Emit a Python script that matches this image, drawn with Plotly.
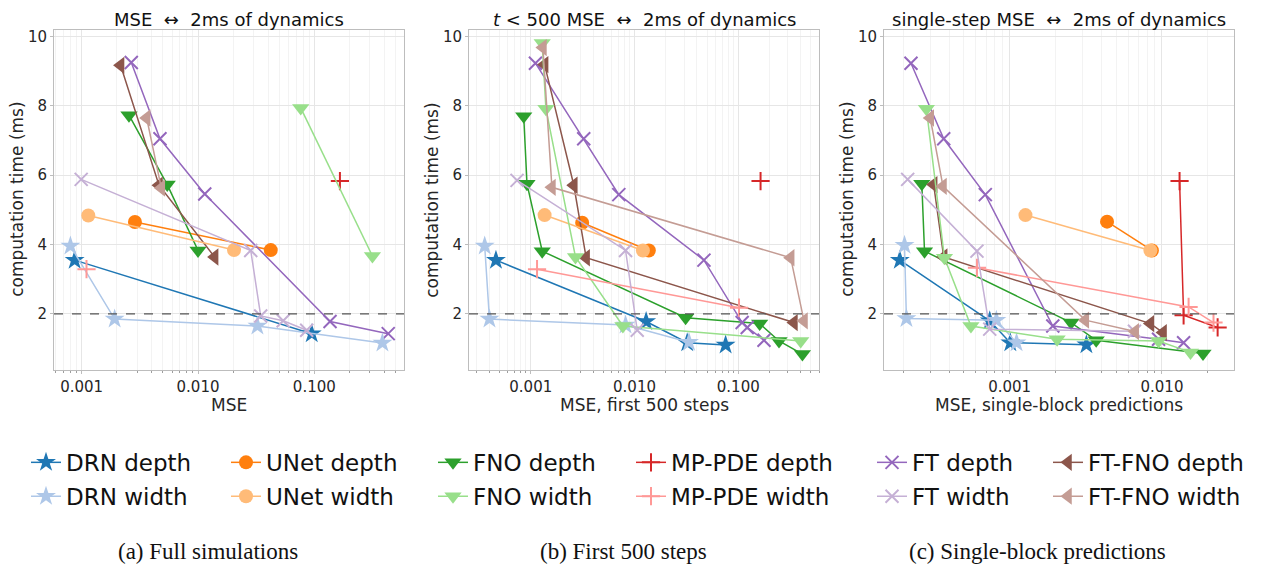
import plotly.graph_objects as go

# The page body has an 8px margin, so the figure is sized to fit the window
OFF = 8
W, H = 1276 - OFF, 570 - OFF

# ---------------- data ----------------
models = ["DRN depth", "UNet depth", "FNO depth", "MP-PDE depth", "FT depth", "FT-FNO depth",
          "DRN width", "UNet width", "FNO width", "MP-PDE width", "FT width", "FT-FNO width"]

# Panel (a): full simulations  (MSE, time ms)
full_mse = {
    "DRN depth": [0.00087, 0.095],
    "DRN width": [0.0008, 0.00192, 0.0324, 0.385],
    "UNet depth": [0.00287, 0.0422],
    "UNet width": [0.00114, 0.0204],
    "FNO depth": [0.00255, 0.00544, 0.0100],
    "FNO width": [0.0764, 0.316],
    "MP-PDE depth": [0.166],
    "MP-PDE width": [0.0011],
    "FT depth": [0.00267, 0.00471, 0.01143, 0.1365, 0.432],
    "FT width": [0.00099, 0.0284, 0.0346, 0.054, 0.086],
    "FT-FNO depth": [0.00216, 0.00462, 0.0139],
    "FT-FNO width": [0.00362, 0.00484],
}
full_time = {
    "DRN depth": [3.55, 1.43],
    "DRN width": [3.96, 1.85, 1.65, 1.16],
    "UNet depth": [4.65, 3.84],
    "UNet width": [4.84, 3.84],
    "FNO depth": [7.73, 5.73, 3.83],
    "FNO width": [7.94, 3.67],
    "MP-PDE depth": [5.83],
    "MP-PDE width": [3.29],
    "FT depth": [9.25, 7.05, 5.46, 1.78, 1.43],
    "FT width": [5.88, 3.83, 1.94, 1.80, 1.53],
    "FT-FNO depth": [9.17, 5.71, 3.64],
    "FT-FNO width": [7.65, 5.63],
}

# Panel (b): first 500 steps
first_mse = {
    "DRN depth": [0.000462, 0.01294, 0.0322, 0.0755],
    "DRN width": [0.00036, 0.0004, 0.0082, 0.0335],
    "UNet depth": [0.00313, 0.01374],
    "UNet width": [0.00136, 0.01205],
    "FNO depth": [0.000856, 0.00092, 0.00129, 0.0311, 0.1607, 0.247, 0.415],
    "FNO width": [0.00129, 0.0014, 0.0027, 0.00773, 0.40],
    "MP-PDE depth": [0.164],
    "MP-PDE width": [0.00115, 0.1016],
    "FT depth": [0.00111, 0.00324, 0.00706, 0.0467, 0.109, 0.122, 0.177],
    "FT width": [0.000738, 0.0082, 0.01062],
    "FT-FNO depth": [0.00136, 0.0026, 0.00342, 0.344],
    "FT-FNO width": [0.00131, 0.0016, 0.32, 0.43],
}
first_time = {
    "DRN depth": [3.55, 1.78, 1.17, 1.10],
    "DRN width": [3.96, 1.85, 1.68, 1.18],
    "UNet depth": [4.63, 3.83],
    "UNet width": [4.85, 3.83],
    "FNO depth": [7.70, 5.75, 3.81, 1.89, 1.72, 1.22, 0.84],
    "FNO width": [9.81, 7.92, 3.64, 1.65, 1.22],
    "MP-PDE depth": [5.83],
    "MP-PDE width": [3.29, 2.18],
    "FT depth": [9.23, 7.05, 5.44, 3.55, 1.75, 1.61, 1.24],
    "FT width": [5.85, 3.83, 1.53],
    "FT-FNO depth": [9.19, 5.71, 3.62, 1.75],
    "FT-FNO width": [9.68, 5.65, 3.62, 1.80],
}

# Panel (c): single-block predictions
single_mse = {
    "DRN depth": [0.00019, 0.00074, 0.00101, 0.00319],
    "DRN width": [0.000204, 0.00021, 0.000818, 0.00111],
    "UNet depth": [0.00436, 0.00859],
    "UNet width": [0.00127, 0.0084],
    "FNO depth": [0.000265, 0.000276, 0.00253, 0.0037, 0.0186],
    "FNO width": [0.000284, 0.000373, 0.000557, 0.00205, 0.0095, 0.0154],
    "MP-PDE depth": [0.01305, 0.01387, 0.0232],
    "MP-PDE width": [0.00061, 0.01496, 0.0218],
    "FT depth": [0.000225, 0.000369, 0.000692, 0.00192, 0.0095, 0.01387],
    "FT width": [0.000214, 0.00061, 0.00074, 0.0066],
    "FT-FNO depth": [0.000317, 0.000369, 0.0084, 0.01017],
    "FT-FNO width": [0.000301, 0.000365, 0.00314, 0.00668],
}
single_time = {
    "DRN depth": [3.55, 1.80, 1.17, 1.11],
    "DRN width": [3.98, 1.87, 1.82, 1.17],
    "UNet depth": [4.66, 3.83],
    "UNet width": [4.85, 3.83],
    "FNO depth": [5.75, 3.81, 1.75, 1.24, 0.86],
    "FNO width": [7.92, 3.62, 1.65, 1.27, 1.22, 0.89],
    "MP-PDE depth": [5.83, 1.96, 1.61],
    "MP-PDE width": [3.33, 2.20, 1.75],
    "FT depth": [9.23, 7.05, 5.44, 1.65, 1.27, 1.17],
    "FT width": [5.88, 3.81, 1.56, 1.50],
    "FT-FNO depth": [5.73, 3.64, 1.72, 1.46],
    "FT-FNO width": [7.65, 5.68, 1.82, 1.49],
}

panel_titles = ["MSE \u00a0\u2194\u00a0 2ms of dynamics",
                "<i>t</i> < 500 MSE \u00a0\u2194\u00a0 2ms of dynamics",
                "single-step MSE \u00a0\u2194\u00a0 2ms of dynamics"]
x_titles = ["MSE", "MSE, first 500 steps", "MSE, single-block predictions"]
y_title = "computation time (ms)"
captions = ["(a) Full simulations", "(b) First 500 steps", "(c) Single-block predictions"]
threshold_ms = 2

# ---------------- styles ----------------
colors = {
    "DRN depth": "#1f77b4", "DRN width": "#aec7e8",
    "UNet depth": "#ff7f0e", "UNet width": "#ffbb78",
    "FNO depth": "#2ca02c", "FNO width": "#98df8a",
    "MP-PDE depth": "#d62728", "MP-PDE width": "#ff9896",
    "FT depth": "#9467bd", "FT width": "#c5b0d5",
    "FT-FNO depth": "#8c564b", "FT-FNO width": "#c49c94",
}
symbols = {"DRN": ("star", 15), "UNet": ("circle", 14), "FNO": ("triangle-down", 15),
           "MP-PDE": ("cross-thin", 13), "FT": ("x-thin", 13), "FT-FNO": ("triangle-left", 15)}

# pixel layout (window pixels)
panels_px = [(54, 404), (469, 819), (884, 1234)]
top_px, bot_px = 28, 369
x_ranges = [[-3.238, -0.229], [-3.595, -0.222], [-3.825, -1.527]]
y_range = [0.39, 10.19]


def px(x):
    return (x - OFF) / W


def py(y):
    return 1 - (y - OFF) / H


fig = go.Figure()
datasets = [(full_mse, full_time), (first_mse, first_time), (single_mse, single_time)]

legend_text_x = [70, 270, 477, 675, 916, 1092]
legend_rows_y = [462, 496]

for pi, (mse, tm) in enumerate(datasets):
    xa = "x" if pi == 0 else f"x{pi+1}"
    ya = "y" if pi == 0 else f"y{pi+1}"
    for mi, m in enumerate(models):
        fam = m.rsplit(" ", 1)[0]
        sym, sz = symbols[fam]
        thin = sym.endswith("thin")
        leg_id = "legend" if mi == 0 else f"legend{mi+1}"
        fig.add_trace(go.Scatter(
            x=mse[m], y=tm[m], mode="lines+markers", name=m,
            xaxis=xa, yaxis=ya,
            line=dict(color=colors[m], width=1.5),
            marker=dict(symbol=sym, size=sz, color=colors[m],
                        line=dict(color=colors[m], width=2 if thin else 0)),
            showlegend=(pi == 0), legend=leg_id,
        ))

axis_common = dict(showline=True, mirror=True, linecolor="#bdbdbd", linewidth=1,
                   ticks="outside", tickcolor="#bdbdbd", ticklen=3,
                   tickfont=dict(family="DejaVu Sans", size=15, color="#262626"),
                   gridcolor="#e6e6e6", gridwidth=1, zeroline=False)

layout = dict(width=W, height=H, margin=dict(l=0, r=0, t=0, b=0),
              paper_bgcolor="white", plot_bgcolor="white",
              font=dict(family="DejaVu Sans", color="#262626"))

for pi in range(3):
    xk = "xaxis" if pi == 0 else f"xaxis{pi+1}"
    yk = "yaxis" if pi == 0 else f"yaxis{pi+1}"
    l, r = panels_px[pi]
    layout[xk] = dict(axis_common, type="log", domain=[px(l), px(r)], range=x_ranges[pi],
                      anchor="y" if pi == 0 else f"y{pi+1}",
                      dtick=1, tickformat=".3f",
                      minor=dict(dtick="D1", showgrid=True, gridcolor="#f3f3f3",
                                 ticks="outside", ticklen=2, tickcolor="#9e9e9e"))
    layout[yk] = dict(axis_common, domain=[py(bot_px), py(top_px)], range=y_range,
                      anchor="x" if pi == 0 else f"x{pi+1}", dtick=2, tick0=0)

# legends: one per entry, placed in a 6x2 grid
for mi, m in enumerate(models):
    col, row = mi % 6, mi // 6
    key = "legend" if mi == 0 else f"legend{mi+1}"
    layout[key] = dict(x=px(legend_text_x[col] - 44), y=py(legend_rows_y[row]),
                       xanchor="left", yanchor="middle", bgcolor="rgba(0,0,0,0)",
                       font=dict(family="DejaVu Sans", size=23, color="#111"),
                       itemwidth=30, tracegroupgap=0)

fig.update_layout(**layout)

# threshold lines
for pi in range(3):
    xr = "x domain" if pi == 0 else f"x{pi+1} domain"
    yr = "y" if pi == 0 else f"y{pi+1}"
    fig.add_shape(type="line", xref=xr, yref=yr, x0=0, x1=1, y0=threshold_ms, y1=threshold_ms,
                  line=dict(color="#555555", width=1.3, dash="dash"))

# titles, axis titles, captions
for pi in range(3):
    l, r = panels_px[pi]
    cx = (l + r) / 2
    fig.add_annotation(x=px(cx), y=py(18), xref="paper", yref="paper", text=panel_titles[pi],
                       showarrow=False, xanchor="center", yanchor="middle",
                       font=dict(family="DejaVu Sans", size=18, color="#111"))
    fig.add_annotation(x=px(cx), y=py(404), xref="paper", yref="paper", text=x_titles[pi],
                       showarrow=False, xanchor="center", yanchor="middle",
                       font=dict(family="DejaVu Sans", size=17, color="#262626"))
    fig.add_annotation(x=px(l - 37), y=py((top_px + bot_px) / 2), xref="paper", yref="paper",
                       text=y_title, textangle=-90, showarrow=False,
                       xanchor="center", yanchor="middle",
                       font=dict(family="DejaVu Sans", size=17, color="#262626"))

caption_cx = [208, 623, 1037]
for pi in range(3):
    fig.add_annotation(x=px(caption_cx[pi]), y=py(551), xref="paper", yref="paper",
                       text=captions[pi], showarrow=False, xanchor="center", yanchor="middle",
                       font=dict(family="Liberation Serif", size=23, color="#111"))

fig.write_html("out.html")
